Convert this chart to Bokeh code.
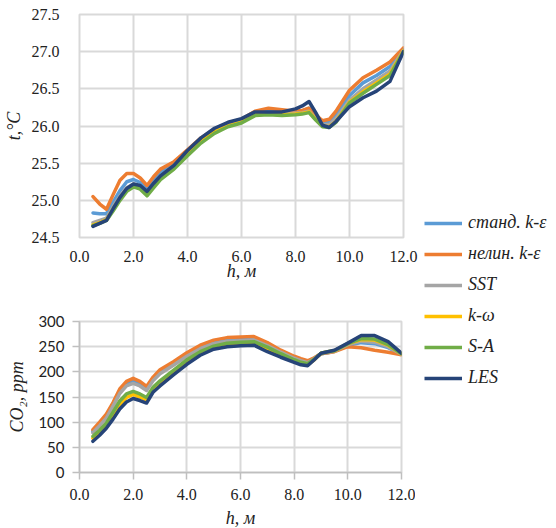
from bokeh.plotting import figure
from bokeh.layouts import row, column
from bokeh.models import Legend, LegendItem, FixedTicker, NumeralTickFormatter, Range1d
from bokeh.embed import file_html
from bokeh.resources import INLINE

# ---------------- data ----------------
series_names = ["станд. k-ε", "нелин. k-ε", "SST", "k-ω", "S-A", "LES"]
series_colors = ["#5B9BD5", "#ED7D31", "#A5A5A5", "#FFC000", "#70AD47", "#264478"]

h = [0.5, 0.75, 1.0, 1.25, 1.5, 1.75, 2.0, 2.25, 2.5, 2.75, 3.0, 3.5, 4.0, 4.5, 5.0, 5.5,
     6.0, 6.5, 7.0, 7.5, 8.0, 8.25, 8.5, 8.75, 9.0, 9.25, 9.5, 10.0, 10.5, 11.0, 11.5, 12.0]

# temperature, °C
t_std = [24.83, 24.82, 24.82, 24.98, 25.13, 25.25, 25.28, 25.24, 25.17, 25.28, 25.38, 25.50,
         25.67, 25.83, 25.95, 26.03, 26.08, 26.18, 26.20, 26.19, 26.19, 26.20, 26.24, 26.13,
         26.04, 26.05, 26.14, 26.41, 26.58, 26.68, 26.80, 27.03]
t_nonlin = [25.05, 24.95, 24.88, 25.08, 25.27, 25.36, 25.36, 25.30, 25.20, 25.32, 25.42, 25.52,
            25.68, 25.84, 25.96, 26.04, 26.09, 26.20, 26.24, 26.22, 26.20, 26.21, 26.24, 26.15,
            26.07, 26.09, 26.20, 26.48, 26.65, 26.75, 26.86, 27.05]
t_sst = [24.70, 24.73, 24.76, 24.92, 25.06, 25.17, 25.22, 25.19, 25.10, 25.22, 25.33, 25.47,
         25.64, 25.80, 25.93, 26.01, 26.06, 26.16, 26.18, 26.17, 26.17, 26.18, 26.20, 26.10,
         26.02, 26.02, 26.10, 26.35, 26.50, 26.62, 26.74, 27.02]
t_kw = [24.67, 24.70, 24.74, 24.88, 25.02, 25.14, 25.20, 25.17, 25.08, 25.19, 25.30, 25.44,
        25.62, 25.79, 25.92, 26.00, 26.05, 26.15, 26.16, 26.15, 26.16, 26.17, 26.19, 26.09,
        26.00, 25.99, 26.06, 26.32, 26.46, 26.58, 26.70, 27.01]
t_sa = [24.66, 24.69, 24.73, 24.86, 25.00, 25.12, 25.18, 25.15, 25.06, 25.17, 25.28, 25.42,
        25.60, 25.77, 25.90, 25.99, 26.04, 26.14, 26.15, 26.14, 26.15, 26.16, 26.18, 26.08,
        25.99, 25.98, 26.05, 26.31, 26.44, 26.56, 26.68, 27.00]
t_les = [24.65, 24.69, 24.73, 24.89, 25.04, 25.16, 25.22, 25.20, 25.12, 25.23, 25.33, 25.47,
         25.67, 25.84, 25.97, 26.05, 26.10, 26.19, 26.19, 26.19, 26.23, 26.27, 26.33, 26.18,
         26.01, 25.98, 26.06, 26.26, 26.38, 26.47, 26.60, 27.00]

# CO2, ppm
c_std = [82, 96, 112, 136, 162, 177, 183, 177, 168, 187, 200, 216,
         234, 249, 259, 264, 265, 266, 255, 241, 229, 224, 220, 227,
         236, 238, 241, 253, 258, 256, 248, 235]
c_nonlin = [85, 100, 116, 139, 166, 181, 187, 181, 171, 190, 204, 220,
            238, 253, 263, 268, 269, 270, 258, 243, 231, 226, 222, 228,
            236, 238, 240, 250, 248, 243, 239, 234]
c_sst = [79, 93, 108, 132, 157, 172, 177, 172, 163, 183, 196, 213,
         231, 246, 256, 261, 262, 263, 252, 239, 227, 222, 218, 226,
         236, 239, 241, 254, 261, 259, 250, 235]
c_kw = [68, 80, 94, 114, 135, 149, 155, 150, 144, 166, 178, 199,
        221, 238, 249, 255, 256, 257, 246, 233, 222, 217, 214, 224,
        237, 240, 242, 256, 264, 263, 253, 236]
c_sa = [72, 84, 98, 120, 142, 156, 161, 156, 149, 170, 182, 203,
        224, 240, 251, 257, 259, 260, 249, 236, 224, 219, 216, 225,
        237, 240, 242, 256, 266, 265, 254, 236]
c_les = [62, 74, 88, 106, 126, 140, 147, 143, 138, 160, 172, 194,
         215, 233, 245, 250, 252, 253, 240, 229, 219, 214, 212, 224,
         237, 240, 243, 257, 272, 272, 260, 237]

x_ticks = [0, 2, 4, 6, 8, 10, 12]
t_ticks = [24.5, 25.0, 25.5, 26.0, 26.5, 27.0, 27.5]
c_ticks = [0, 50, 100, 150, 200, 250, 300]

t_series = [t_std, t_nonlin, t_sst, t_kw, t_sa, t_les]
c_series = [c_std, c_nonlin, c_sst, c_kw, c_sa, c_les]

SERIF = "'Liberation Serif', 'Times New Roman', 'DejaVu Serif', serif"
GRID = "#D9D9D9"
LW = 3.5
TXT = "#222222"

# ---------------- top chart ----------------
p1 = figure(frame_width=324, frame_height=223, output_backend="svg", toolbar_location=None,
            x_range=Range1d(0, 12), y_range=Range1d(24.5, 27.5),
            min_border_left=73, min_border_right=18, min_border_top=14, min_border_bottom=55)
for ys, col in zip(t_series, series_colors):
    p1.line(h, ys, line_color=col, line_width=LW, line_join="round", line_cap="round")
p1.xaxis.ticker = FixedTicker(ticks=x_ticks)
p1.yaxis.ticker = FixedTicker(ticks=t_ticks)
p1.xaxis.formatter = NumeralTickFormatter(format="0.0")
p1.yaxis.formatter = NumeralTickFormatter(format="0.0")
p1.xaxis.axis_label = "h, м"
p1.yaxis.axis_label = "t,°C"
for ax in (p1.xaxis[0], p1.yaxis[0]):
    ax.axis_line_color = None
    ax.major_tick_line_color = None
    ax.minor_tick_line_color = None
    ax.major_label_text_font = SERIF
    ax.major_label_text_font_size = "16px"
    ax.major_label_text_color = TXT
    ax.axis_label_text_font = SERIF
    ax.axis_label_text_font_style = "italic"
    ax.axis_label_text_font_size = "18px"
    ax.axis_label_text_color = TXT
p1.xaxis.major_label_standoff = 7
p1.yaxis.major_label_standoff = 14
p1.xaxis.axis_label_standoff = -4
p1.yaxis.axis_label_standoff = 5
p1.grid.grid_line_color = GRID
p1.grid.grid_line_width = 2
p1.outline_line_color = GRID
p1.outline_line_width = 2

# ---------------- bottom chart ----------------
p2 = figure(frame_width=322, frame_height=151, output_backend="svg", toolbar_location=None,
            x_range=Range1d(0, 12), y_range=Range1d(0, 300),
            min_border_left=76, min_border_right=17, min_border_top=29, min_border_bottom=56)
for ys, col in zip(c_series, series_colors):
    p2.line(h, ys, line_color=col, line_width=LW, line_join="round", line_cap="round")
p2.xaxis.ticker = FixedTicker(ticks=x_ticks)
p2.yaxis.ticker = FixedTicker(ticks=c_ticks)
p2.xaxis.formatter = NumeralTickFormatter(format="0.0")
p2.xaxis.axis_label = "h, м"
p2.yaxis.axis_label = "CO₂, ppm"
for ax in (p2.xaxis[0], p2.yaxis[0]):
    ax.axis_line_color = "#BFBFBF"
    ax.axis_line_width = 1.5
    ax.major_tick_line_color = "#BFBFBF"
    ax.major_tick_line_width = 1.5
    ax.major_tick_out = 7
    ax.major_tick_in = 0
    ax.minor_tick_line_color = None
    ax.major_label_text_font_size = "16px"
    ax.major_label_text_color = TXT
    ax.axis_label_text_font = SERIF
    ax.axis_label_text_font_style = "italic"
    ax.axis_label_text_font_size = "18px"
    ax.axis_label_text_color = TXT
p2.xaxis.major_label_text_font = SERIF
p2.yaxis.major_label_text_font = "Lato"
p2.yaxis.major_label_text_font_size = "15px"
p2.xaxis.major_label_standoff = 9
p2.yaxis.major_label_standoff = 8
p2.xaxis.axis_label_standoff = 5
p2.yaxis.axis_label_standoff = 8
p2.grid.grid_line_color = GRID
p2.grid.grid_line_width = 2
p2.outline_line_color = GRID
p2.outline_line_width = 2

# ---------------- legend ----------------
pl = figure(width=141, height=528, output_backend="svg", toolbar_location=None,
            x_range=Range1d(0, 1), y_range=Range1d(0, 1), min_border=0)
pl.axis.visible = False
pl.grid.visible = False
pl.outline_line_color = None
items = []
for name, col in zip(series_names, series_colors):
    # placeholder renderer (outside the visible range) that only supplies the legend swatch
    r = pl.line(x=[5, 6], y=[5, 6], line_color=col, line_width=LW)
    items.append(LegendItem(label=name, renderers=[r]))
leg = Legend(items=items, location=(3, 140), glyph_width=38, glyph_height=20,
             label_height=20, spacing=10, padding=0, margin=0, label_standoff=6,
             border_line_color=None, background_fill_alpha=0,
             label_text_font=SERIF, label_text_font_style="italic",
             label_text_font_size="18px", label_text_color=TXT)
pl.add_layout(leg, "center")

layout = row(column(p1, p2), pl)
open("out.html", "w").write(file_html(layout, INLINE))
